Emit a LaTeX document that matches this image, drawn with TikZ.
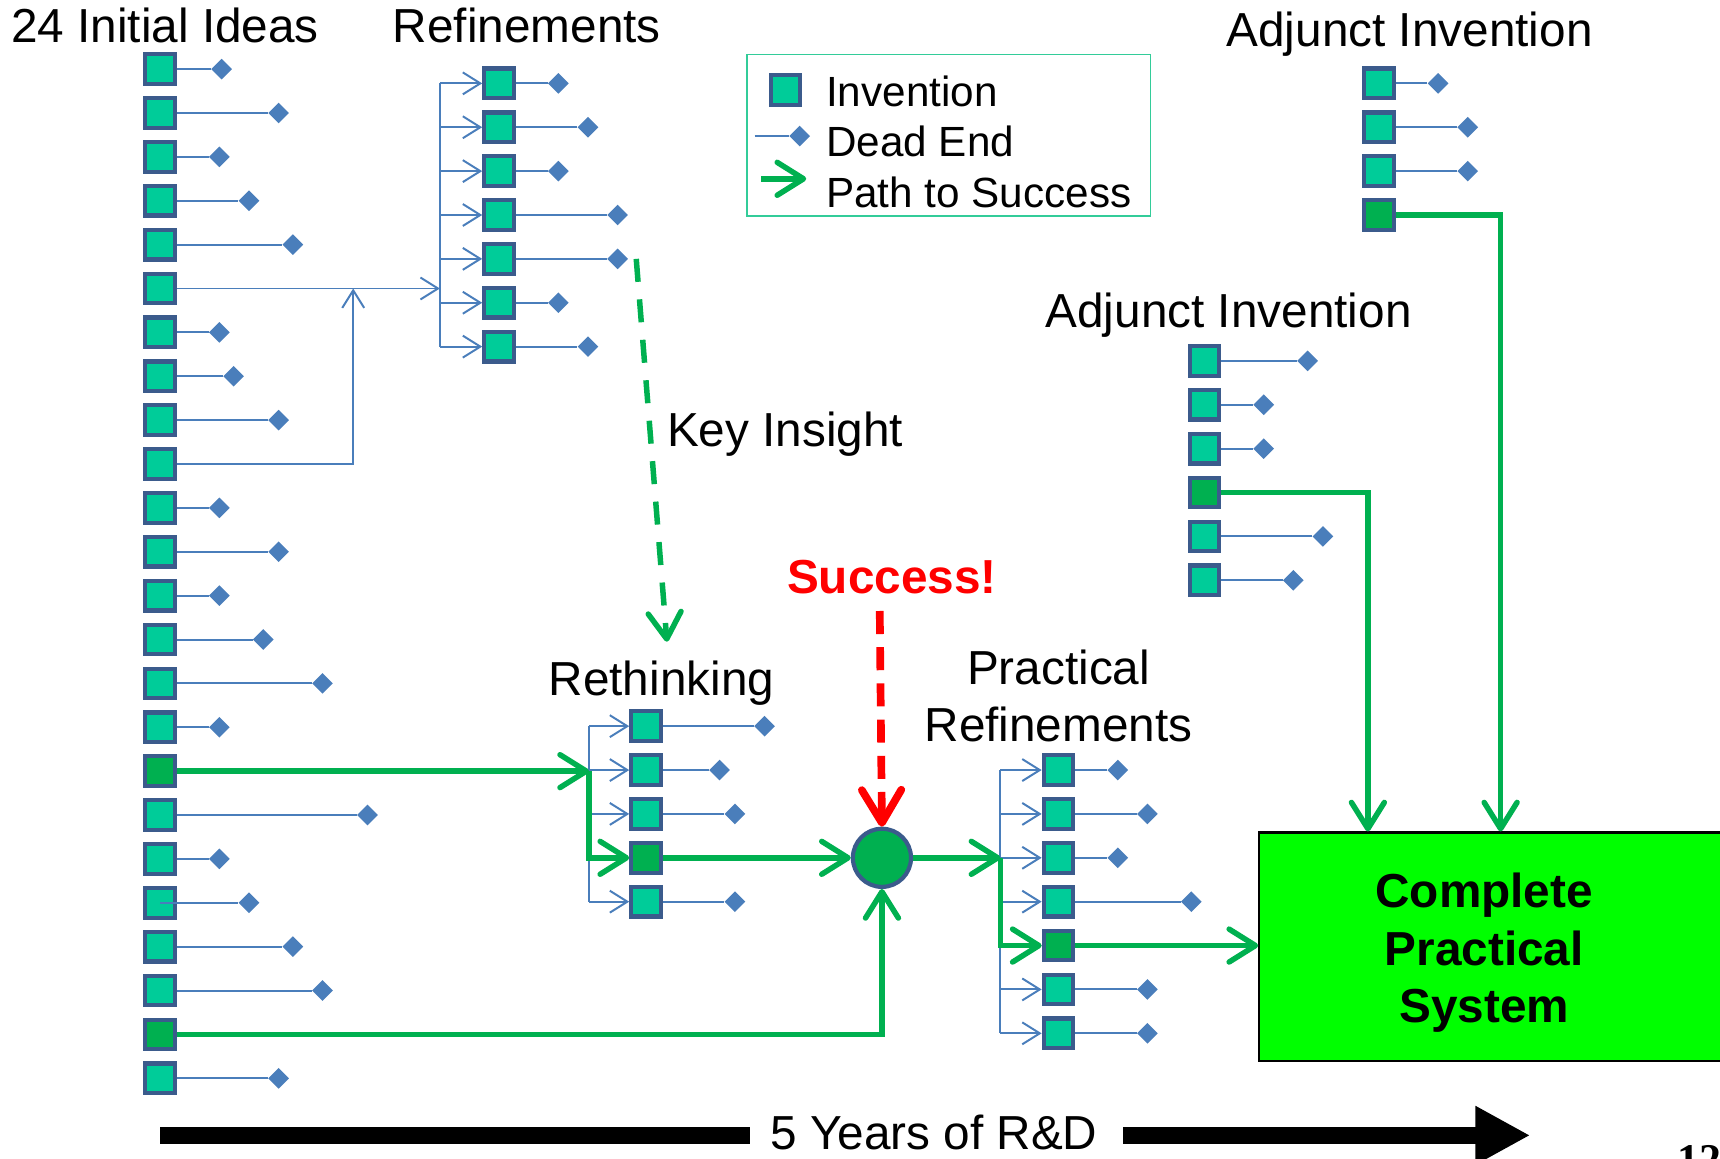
\documentclass[tikz,border=0pt]{standalone}
\usepackage{fontspec}
\setmainfont{Liberation Sans}
\newfontfamily\serifbold{Liberation Serif}
\usetikzlibrary{arrows.meta,shapes.geometric}
\definecolor{invfill}{HTML}{00CC99}
\definecolor{invdark}{HTML}{00B050}
\definecolor{invborder}{HTML}{3B5B8C}
\definecolor{deadblue}{HTML}{4A7EBB}
\definecolor{pathgreen}{HTML}{00B050}
\definecolor{legborder}{HTML}{33CC99}
\definecolor{boxgreen}{HTML}{00FF00}
\begin{document}
\begin{tikzpicture}[x=1pt,y=-1pt,
  invbox/.style={rectangle, draw=invborder, fill=invfill, line width=3.8pt, minimum size=27pt, inner sep=0pt},
  invgood/.style={invbox, fill=invdark},
  deadend/.style={diamond, fill=deadblue, inner sep=0pt, minimum size=19pt},
  deadline/.style={draw=deadblue, line width=1.8pt},
  bluearrow/.style={deadline, -{Straight Barb[length=16pt,width=20pt]}},
  greenarrow/.style={draw=pathgreen, line width=5pt, -{Straight Barb[length=24pt,width=30pt,round]}},
  lbl/.style={font=\fontsize{43.5}{52}\selectfont, inner sep=0pt},
  legtext/.style={font=\fontsize{38.5}{44}\selectfont, inner sep=0pt, anchor=base west},
]
\useasboundingbox (0,0) rectangle (1568,1056);
\clip (0,0) rectangle (1568,1056);

% ---------- titles ----------
\node[lbl, anchor=base west] (t1) at (10,39) {24 Initial Ideas};
\node[lbl, anchor=base west] (t2) at (358,39) {Refinements};
\node[lbl, anchor=base west] (t3) at (1118,42) {Adjunct Invention};
\node[lbl, anchor=base west] (t4) at (953,299) {Adjunct Invention};
\node[lbl, anchor=base west] (t5) at (608,407) {Key Insight};
\node[lbl, anchor=base, text=red, font=\fontsize{43.5}{52}\selectfont\bfseries] (t6) at (813,541) {Success!};
\node[lbl, anchor=base] (t7) at (603,634) {Rethinking};
\node[lbl, anchor=north, align=center] (t8) at (965,592) {Practical\\Refinements};

% ---------- legend ----------
\node[draw=legborder, line width=1.5pt, minimum width=368pt, minimum height=147pt, anchor=north west, inner sep=0pt] (leg) at (680,49) {};
\node[invbox] (lginv) at (716,82) {};
\node[legtext] (lg1) at (753,97) {Invention};
\coordinate (lgd0) at (688,124);
\node[deadend] (lgd) at (729,124) {};
\draw[deadline] (lgd0) -- (lgd);
\node[legtext] (lg2) at (753,143) {Dead End};
\coordinate (lga0) at (694,163);
\coordinate (lga1) at (735,163);
\draw[greenarrow] (lga0) -- (lga1);
\node[legtext] (lg3) at (753,189) {Path to Success};

% ---------- 24 initial ideas ----------
\foreach \i in {1,2,3,4,5,6,7,8,9,10,11,12,13,14,15,16,18,19,20,21,22,24}
  \node[invbox] (L\i) at (146,{23+40*\i}) {};
\node[invgood] (L17) at (146,703) {};
\node[invgood] (L23) at (146,943) {};
\foreach \i/\dx in {1/202,2/254,3/200,4/227,5/267,7/200,8/213,9/254,11/200,12/254,13/200,14/240,15/294,16/200,18/335,19/200,21/267,22/294,24/254}{
  \node[deadend] (LD\i) at (\dx,{23+40*\i}) {};
  \draw[deadline] (L\i.east) -- (LD\i);
}
\node[deadend] (LD20) at (227,823) {};
\draw[deadline] (L20.center) -- (LD20);

% ---------- refinements ----------
\foreach \i in {1,...,7}
  \node[invbox] (R\i) at (455,{36+40*\i}) {};
\foreach \i/\dx in {1/509,2/536,3/509,4/563,5/563,6/509,7/536}{
  \node[deadend] (RD\i) at (\dx,{36+40*\i}) {};
  \draw[deadline] (R\i.east) -- (RD\i);
}
\coordinate (rtop) at (401,76);
\coordinate (rbot) at (401,316);
\draw[deadline] (rtop) -- (rbot);
\foreach \i in {1,...,7}
  \draw[bluearrow] (R\i.west -| rtop) -- (R\i.west);
\coordinate (rin) at (401,263);
\coordinate (kin) at (322,263);
\draw[bluearrow] (L6.east) -- (rin);
\draw[bluearrow] (L10.east) -| (kin);

% ---------- key insight ----------
\coordinate (ki0) at (580,236);
\coordinate (ki1) at (608,585);
\draw[greenarrow, dash pattern=on 21pt off 16pt, line cap=butt] (ki0) -- (ki1);

% ---------- rethinking ----------
\foreach \i in {1,2,3,5}
  \node[invbox] (Q\i) at (589,{622+40*\i}) {};
\node[invgood] (Q4) at (589,782) {};
\foreach \i/\dx in {1/697,2/656,3/670,5/670}{
  \node[deadend] (QD\i) at (\dx,{622+40*\i}) {};
  \draw[deadline] (Q\i.east) -- (QD\i);
}
\coordinate (qtop) at (537,662);
\coordinate (qbot) at (537,822);
\draw[deadline] (qtop) -- (qbot);
\foreach \i in {1,...,5}
  \draw[bluearrow] (Q\i.west -| qtop) -- (Q\i.west);

% ---------- practical refinements ----------
\foreach \i in {1,2,3,4,6,7}
  \node[invbox] (P\i) at (965,{662+40*\i}) {};
\node[invgood] (P5) at (965,862) {};
\foreach \i/\dx in {1/1019,2/1046,3/1019,4/1086,6/1046,7/1046}{
  \node[deadend] (PD\i) at (\dx,{662+40*\i}) {};
  \draw[deadline] (P\i.east) -- (PD\i);
}
\coordinate (ptop) at (912,702);
\coordinate (pbot) at (912,942);
\draw[deadline] (ptop) -- (pbot);
\foreach \i in {1,...,7}
  \draw[bluearrow] (P\i.west -| ptop) -- (P\i.west);

% ---------- adjunct inventions ----------
\foreach \i in {1,2,3,5,6}
  \node[invbox] (M\i) at (1098,{289+40*\i}) {};
\node[invgood] (M4) at (1098,449) {};
\foreach \i/\dx in {1/1192,2/1152,3/1152,5/1206,6/1179}{
  \node[deadend] (MD\i) at (\dx,{289+40*\i}) {};
  \draw[deadline] (M\i.east) -- (MD\i);
}
\foreach \i in {1,2,3}
  \node[invbox] (T\i) at (1257,{36+40*\i}) {};
\node[invgood] (T4) at (1257,196) {};
\foreach \i/\dx in {1/1311,2/1338,3/1338}{
  \node[deadend] (TD\i) at (\dx,{36+40*\i}) {};
  \draw[deadline] (T\i.east) -- (TD\i);
}

% ---------- success circle and final system ----------
\node[circle, draw=invborder, fill=invdark, line width=3.8pt, minimum size=53pt, inner sep=0pt] (C) at (804,782) {};
\node[draw=black, fill=boxgreen, line width=2pt, minimum width=423pt, minimum height=208pt, anchor=north west, inner sep=0pt] (B) at (1147,758) {};
\node[lbl, anchor=north, align=center, font=\fontsize{43.5}{52}\selectfont\bfseries] (bt) at (1353,796) {Complete\\Practical\\System};

% ---------- paths to success ----------
\coordinate (j1) at (537,703);
\draw[greenarrow] (L17.east) -- (j1);
\draw[greenarrow] (j1) |- (Q4.west);
\draw[greenarrow] (Q4.east) -- (C.west);
\draw[greenarrow] (L23.east) -| (C.south);
\coordinate (j2) at (912,782);
\draw[greenarrow] (C.east) -- (j2);
\draw[greenarrow] (j2) |- (P5.west);
\draw[greenarrow] (P5.east) -- (P5 -| B.west);
\coordinate (b1) at (1247,758);
\coordinate (b2) at (1368,758);
\draw[greenarrow] (M4.east) -| (b1);
\draw[greenarrow] (T4.east) -| (b2);

% ---------- success marker ----------
\coordinate (s0) at (802,557);
\draw[draw=red, line width=7pt, dash pattern=on 21pt off 12pt, -{Straight Barb[length=30pt,width=36pt,round]}] (s0) -- (C.north);

% ---------- timeline ----------
\coordinate (bar0) at (146,1035);
\coordinate (bar1) at (684,1035);
\draw[line width=15pt] (bar0) -- (bar1);
\node[lbl, anchor=base west] (yrs) at (702,1048) {5 Years of R\&D};
\coordinate (bar2) at (1024,1035);
\coordinate (bar3) at (1395,1035);
\draw[line width=15pt, -{Triangle[length=50pt,width=50pt]}] (bar2) -- (bar3);
\node[font=\serifbold\bfseries\fontsize{40}{40}\selectfont, anchor=base west, inner sep=0pt] (pg) at (1529,1071) {12};
\end{tikzpicture}
\end{document}
